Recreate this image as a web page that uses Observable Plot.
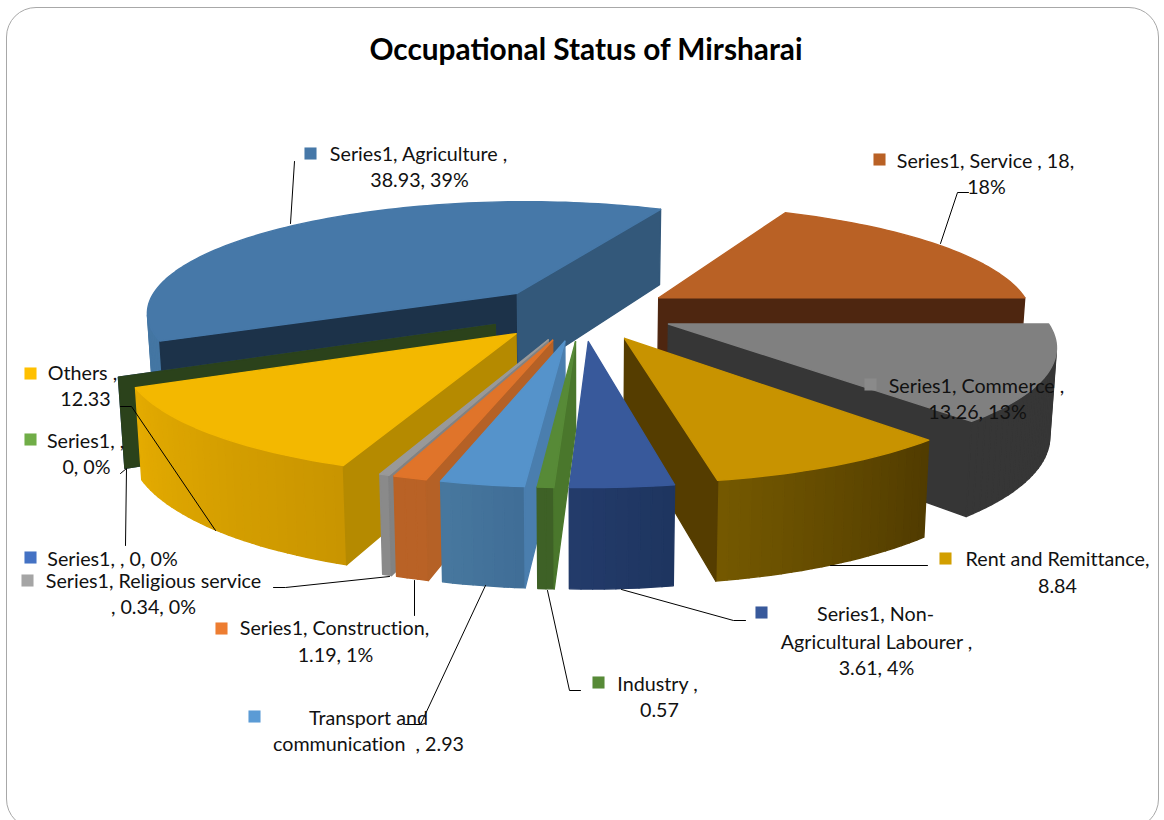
<!DOCTYPE html>
<html>
<head>
<meta charset="utf-8">
<script src="https://cdn.jsdelivr.net/npm/d3@7"></script>
<script src="https://cdn.jsdelivr.net/npm/@observablehq/plot@0.6"></script>
<style>
  html, body { margin: 0; padding: 0; background: #fff; overflow: hidden; }
  #page { position: relative; width: 1164px; height: 820px; overflow: hidden; font-family: Lato, sans-serif; font-variant-ligatures: none; }
  #frame { position: absolute; left: 6px; top: 7px; width: 1153px; height: 822px; box-sizing: border-box;
           border: 1.5px solid #a8a8a8; border-radius: 30px; }
  #title { position: relative; height: 70px; padding-top: 31px; box-sizing: border-box; width: 1172px; text-align: center;
           font: bold 29.8px/36px Lato, sans-serif; color: #000; }
  #chart { position: relative; }
  svg { display: block; font-variant-ligatures: none; }
</style>
</head>
<body>
<div id="page">
  <div id="frame"></div>
  <div id="title">Occupational Status of Mirsharai</div>
  <div id="chart"></div>
</div>
<script>
// ---- Data ----
const categories = ["Agriculture", "Service", "Commerce", "Rent and Remittance", "Non-Agricultural Labourer",
  "Industry", "Transport and communication", "Construction", "Religious service", "Others", "Zero A", "Zero B"];
const values = [38.93, 18, 13.26, 8.84, 3.61, 0.57, 2.93, 1.19, 0.34, 12.33, 0, 0];

// ---- Colours per slice ----
const topColors  = ["#4678a8","#b96125","#808080","#c89300","#38599b","#578a37","#5593cb","#e0742a","#999999","#f3b800","#264478","#2b421b"];
const rimRight   = ["#4476a3","#4e2610","#363636","#503b00","#1e355f","#3e6126","#3f6d96","#b96226","#8a8a8a","#c99500","#264478","#2b421b"];
const rimLeft    = ["#4476a3","#4e2610","#363636","#755900","#233b6b","#3e6126","#47789f","#b96226","#8a8a8a","#e4ab00","#264478","#2b421b"];
const wallStart  = ["#1c3249","#4e2610","#363636","#553d00","#2c4a80","#4a772c","#4a7eae","#b56126","#828282","#b58a00","#264478","#2b421b"];
const wallEnd    = ["#33587a","#4e2610","#363636","#553d00","#2c4a80","#4a772c","#4a7eae","#b56126","#828282","#b58a00","#264478","#2b421b"];

// ---- Text labels and their keys ----
const labelLines = [
  ["Series1, Agriculture ,", "38.93, 39%"],
  ["Series1, Service , 18,", "18%"],
  ["Series1, Commerce ,", "13.26, 13%"],
  ["Rent and Remittance,", "8.84"],
  ["Series1, Non-", "Agricultural Labourer ,", "3.61, 4%"],
  ["Industry ,", "0.57"],
  ["Transport and", "communication  , 2.93"],
  ["Series1, Construction,", "1.19, 1%"],
  ["Series1, Religious service", ", 0.34, 0%"],
  ["Others ,", "12.33"],
  ["Series1, , 0, 0%"],
  ["Series1, ,", "0, 0%"]
];
const keyColors = ["#4678a8","#b96125","#8a8a8a","#d29f00","#38599b","#578a37","#5b9bd5","#ed7d31","#a5a5a5","#ffc000","#4472c4","#70ad47"];

// ---- Annotation layout (page pixels) ----
const labelPlace = [
  {key:[310,153], at:[[418,154],[419,180]]},
  {key:[879,159], at:[[985,161],[986,187]]},
  {key:[870,384], at:[[976,386],[977,412]]},
  {key:[945,558], at:[[1057,559],[1057,586]]},
  {key:[761,612], at:[[875,614],[876,642],[876,668]]},
  {key:[598,682], at:[[657,684],[659,710]]},
  {key:[254,716], at:[[368,718],[368,744]]},
  {key:[221,628], at:[[334,628],[335,655]]},
  {key:[27,580],  at:[[153,581],[153,607]]},
  {key:[30,373],  at:[[82,373],[85,399]]},
  {key:[30,557],  at:[[112,559]]},
  {key:[30,439],  at:[[85,441],[86,467]]}
];
const leaders = [
  [[294,161],[290,223]],
  [[968,192],[957,192],[940,243]],
  [[927,565],[830,565]],
  [[745,620],[733,620],[621,589]],
  [[580,690],[569,690],[547,590]],
  [[405,724],[420,724],[485,585]],
  [[414,615],[414,580]],
  [[273,587],[285,587],[389,576]],
  [[120,406],[131,406],[215,530]],
  [[120,473],[126,468],[125,545]]
];

// ---- Perspective pie geometry ----
const startAngle = -115, explode = 0.25;
const cam = {xc:581, yc:312, ax:374, ay:112, persp:0.161, wallBase:20, wallScale:65, taper:0.014};
const rad = d => d * Math.PI / 180;
function project(theta, radius, mid) {
  const U = explode * Math.sin(rad(mid)) + radius * Math.sin(rad(theta));
  const V = -explode * Math.cos(rad(mid)) - radius * Math.cos(rad(theta));
  const s = 1 / (1 - cam.persp * V);
  const x = cam.xc + cam.ax * U * s, y = cam.yc + cam.ay * V * s;
  return {top:[x, y], bot:[cam.xc + (x - cam.xc) * (1 - cam.taper), y + cam.wallBase + cam.wallScale * s]};
}
const turn = (a, b, c) => (b[0]-a[0])*(c[1]-b[1]) - (b[1]-a[1])*(c[0]-b[0]);

const total = d3.sum(values);
let acc = startAngle;
const slices = values.map((v, i) => {
  const t0 = acc, t1 = acc + v / total * 360; acc = t1;
  return {i, t0, t1, mid:(t0 + t1) / 2, depth:-Math.cos(rad((t0 + t1) / 2))};
}).sort((a, b) => a.depth - b.depth);

const faces = [];
let faceId = 0;
function addFace(points, fill) {
  const id = faceId++;
  for (const p of [...points, points[0]]) faces.push({id, x:p[0], y:p[1], fill});
}
for (const sl of slices) {
  const {i, t0, t1, mid} = sl;
  const tip = project(0, 0, mid);
  // rim wall, only the segments that face the viewer
  const n = Math.max(1, Math.ceil((t1 - t0) / 1.5));
  const mix = d3.interpolateRgb(rimRight[i], rimLeft[i]);
  for (let k = 0; k < n; k++) {
    const a = project(t0 + (t1 - t0) * k / n, 1, mid), b = project(t0 + (t1 - t0) * (k + 1) / n, 1, mid);
    if (turn(a.top, b.top, b.bot) < 0) addFace([a.top, b.top, b.bot, a.bot], mix((k + 0.5) / n));
  }
  // radial walls
  const r0 = project(t0, 1, mid), r1 = project(t1, 1, mid);
  if (turn(tip.top, r0.top, r0.bot) < 0) addFace([tip.top, r0.top, r0.bot, tip.bot], wallStart[i]);
  if (turn(tip.top, r1.top, r1.bot) > 0) addFace([tip.top, r1.top, r1.bot, tip.bot], wallEnd[i]);
  // top face
  if (t1 > t0) {
    const pts = [tip.top];
    for (let k = 0; k <= n; k++) pts.push(project(t0 + (t1 - t0) * k / n, 1, mid).top);
    addFace(pts, topColors[i]);
  }
}

const keys = labelPlace.map((p, i) => ({x:p.key[0], y:p.key[1], fill:keyColors[i]}));
const textRows = labelPlace.flatMap((p, i) => p.at.map((a, j) => ({x:a[0], y:a[1], text:labelLines[i][j]})));
const leaderRows = leaders.flatMap((l, id) => l.map(p => ({id, x:p[0], y:p[1]})));

const chart = Plot.plot({
  width: 1164, height: 750,
  marginTop: 0, marginRight: 0, marginBottom: 0, marginLeft: 0,
  style: {background: "transparent", fontFamily: "Lato, sans-serif"},
  x: {domain: [0, 1164], range: [0, 1164], axis: null},
  y: {domain: [70, 820], range: [0, 750], axis: null},
  marks: [
    Plot.line(faces, {x: "x", y: "y", z: "id", fill: "fill", stroke: "fill", strokeWidth: 1.4, strokeLinejoin: "round", curve: "linear"}),
    Plot.line(leaderRows, {x: "x", y: "y", z: "id", stroke: "#000", strokeWidth: 1, curve: "linear"}),
    Plot.dot(keys, {x: "x", y: "y", fill: "fill", symbol: "square", r: 6.8, stroke: null}),
    Plot.text(textRows, {x: "x", y: "y", text: "text", fontSize: 19.7, fill: "#111", textAnchor: "middle", lineAnchor: "middle"})
  ]
});
document.getElementById("chart").appendChild(chart);
</script>
</body>
</html>
